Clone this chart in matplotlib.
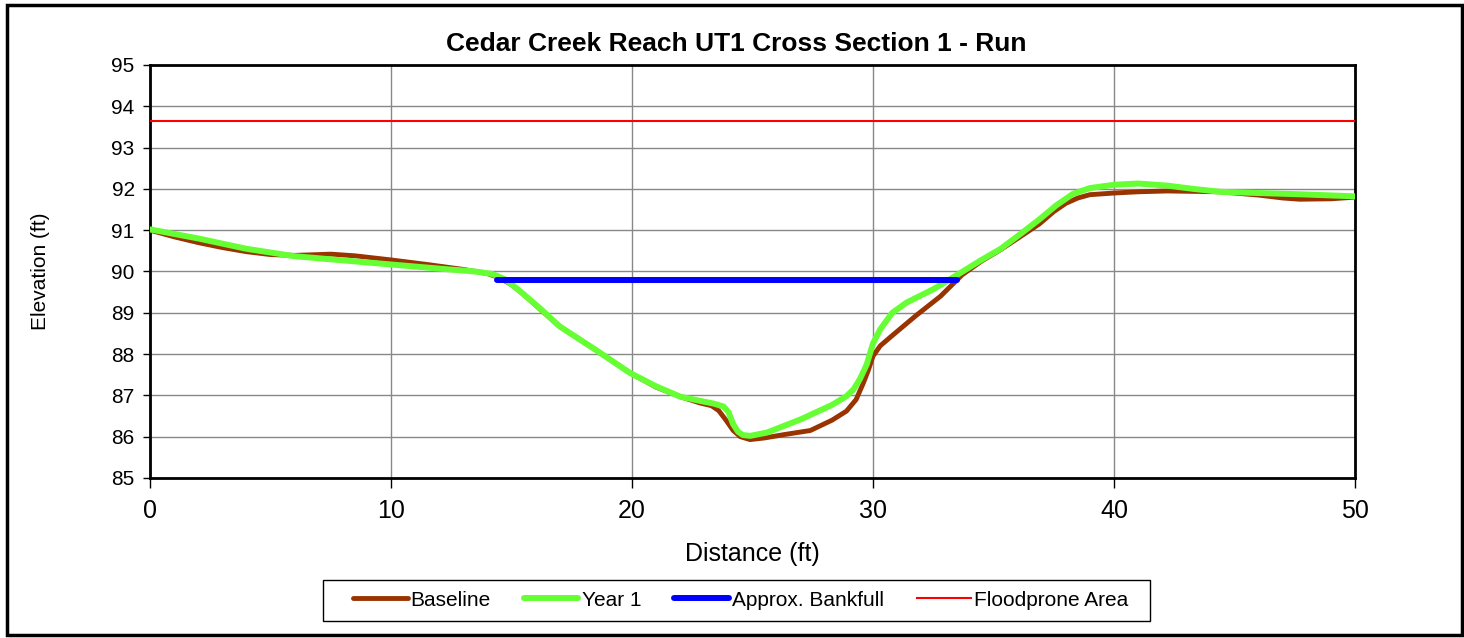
import matplotlib
matplotlib.use("Agg")
import matplotlib.pyplot as plt
from matplotlib.patches import Rectangle

plt.rcParams["font.family"] = ["Liberation Sans", "DejaVu Sans"]

# survey data (distance ft, elevation ft)
baseline_x = [0, 1, 2, 3, 4, 5, 6, 7, 7.5, 8.5, 10, 11.5, 13, 14, 14.5, 15, 15.5, 16.2, 17,
              18.5, 19.9, 21, 22, 22.8, 23.3, 23.6, 23.9, 24.2, 24.5, 24.9, 25.5, 26.3,
              27.4, 28.3, 28.9, 29.3, 29.6, 29.8, 30.0, 30.3, 30.8, 31.8, 32.8, 33.7,
              34.5, 35.3, 36.0, 36.9, 37.5, 38.0, 38.5, 39, 40, 41, 42.2, 44.4, 46, 47,
              47.7, 49, 50]
baseline_y = [91.0, 90.84, 90.7, 90.58, 90.48, 90.41, 90.39, 90.41, 90.42, 90.38, 90.28,
              90.17, 90.05, 89.95, 89.85, 89.68, 89.45, 89.08, 88.67, 88.1, 87.55, 87.2,
              86.97, 86.82, 86.75, 86.63, 86.4, 86.15, 86.0, 85.93, 85.97, 86.05, 86.15,
              86.4, 86.62, 86.9, 87.3, 87.6, 87.95, 88.2, 88.45, 88.94, 89.4, 89.92,
              90.25, 90.53, 90.8, 91.15, 91.45, 91.65, 91.78, 91.86, 91.9, 91.93, 91.95,
              91.93, 91.85, 91.78, 91.75, 91.76, 91.8]

year1_x = [0, 2, 4, 6, 8, 10, 12, 13.5, 14.2, 14.7, 15.2, 15.7, 16.2, 17, 18.5, 19.9,
           21, 22, 22.8, 23.4, 23.8, 24.0, 24.2, 24.4, 24.6, 24.9, 25.6, 27, 28.3, 28.9,
           29.2, 29.46, 29.74, 30.0, 30.3, 30.8, 31.4, 32.5, 33.5, 34.5, 35.3, 36.1,
           36.9, 37.6, 38.3, 39, 40, 41, 42.2, 43.3, 44.4, 46, 47.7, 50]
year1_y = [91.02, 90.8, 90.55, 90.37, 90.27, 90.17, 90.07, 90.0, 89.94, 89.82, 89.6,
           89.35, 89.1, 88.67, 88.1, 87.55, 87.22, 86.97, 86.87, 86.8, 86.73, 86.6,
           86.3, 86.12, 86.04, 86.02, 86.1, 86.42, 86.77, 86.98, 87.15, 87.4, 87.75,
           88.26, 88.6, 89.0, 89.25, 89.57, 89.92, 90.28, 90.55, 90.9, 91.26, 91.6,
           91.88, 92.02, 92.1, 92.13, 92.08, 92.0, 91.93, 91.9, 91.87, 91.82]

bankfull_x = [14.4, 33.5]
bankfull_y = [89.8, 89.8]

floodprone_x = [0, 50]
floodprone_y = [93.65, 93.65]

x_ticks = [0, 10, 20, 30, 40, 50]
y_ticks = list(range(85, 96))

W, H = 1464, 638
fig = plt.figure(figsize=(W / 100, H / 100), dpi=100)
ax = fig.add_axes([150 / W, 160 / H, 1205 / W, 413 / H])

ax.plot(baseline_x, baseline_y, color="#993300", linewidth=3.5, label="Baseline",
        solid_joinstyle="round", solid_capstyle="round", zorder=3)
ax.plot(year1_x, year1_y, color="#66FF33", linewidth=4.3, label="Year 1",
        solid_joinstyle="round", solid_capstyle="round", zorder=4)
ax.plot(bankfull_x, bankfull_y, color="#0000FF", linewidth=4.3, label="Approx. Bankfull",
        solid_capstyle="round", zorder=5)
ax.plot(floodprone_x, floodprone_y, color="#FF0000", linewidth=1.5, label="Floodprone Area",
        zorder=5)

ax.set_xlim(0, 50)
ax.set_ylim(85, 95)
ax.set_xticks(x_ticks)
ax.set_yticks(y_ticks)
ax.tick_params(axis="y", direction="out", length=5, width=1, labelsize=15, pad=6)
ax.tick_params(axis="x", direction="out", length=7, width=1, labelsize=18, pad=8)
ax.grid(True, color="#888888", linewidth=1.0)
ax.set_axisbelow(True)
for spine in ax.spines.values():
    spine.set_linewidth(2.0)
    spine.set_color("black")

ax.set_xlabel("Distance (ft)", fontsize=18, labelpad=14)
ax.set_ylabel("Elevation (ft)", fontsize=15, labelpad=44)
ax.set_title("Cedar Creek Reach UT1 Cross Section 1 - Run", fontsize=19,
             fontweight="bold", pad=10, x=(736 - 150) / 1205)

# legend drawn without its own frame; the box is a separate rectangle
handles, labels = ax.get_legend_handles_labels()
fig.legend(handles, labels, loc="center", bbox_to_anchor=(741 / W, 1 - 600 / H),
           ncol=4, fontsize=15, frameon=False, handlelength=2.6,
           handletextpad=0.15, columnspacing=1.6)
fig.patches.append(Rectangle((323 / W, 1 - 621 / H), 827 / W, 41 / H,
                             transform=fig.transFigure, fill=False,
                             edgecolor="black", linewidth=1.0))

# outer chart border
fig.patches.append(Rectangle((6.5 / W, 3.5 / H), 1455 / W, 630 / H,
                             transform=fig.transFigure, fill=False,
                             edgecolor="black", linewidth=2.5))

fig.savefig("out.png", dpi=100, facecolor="white")
